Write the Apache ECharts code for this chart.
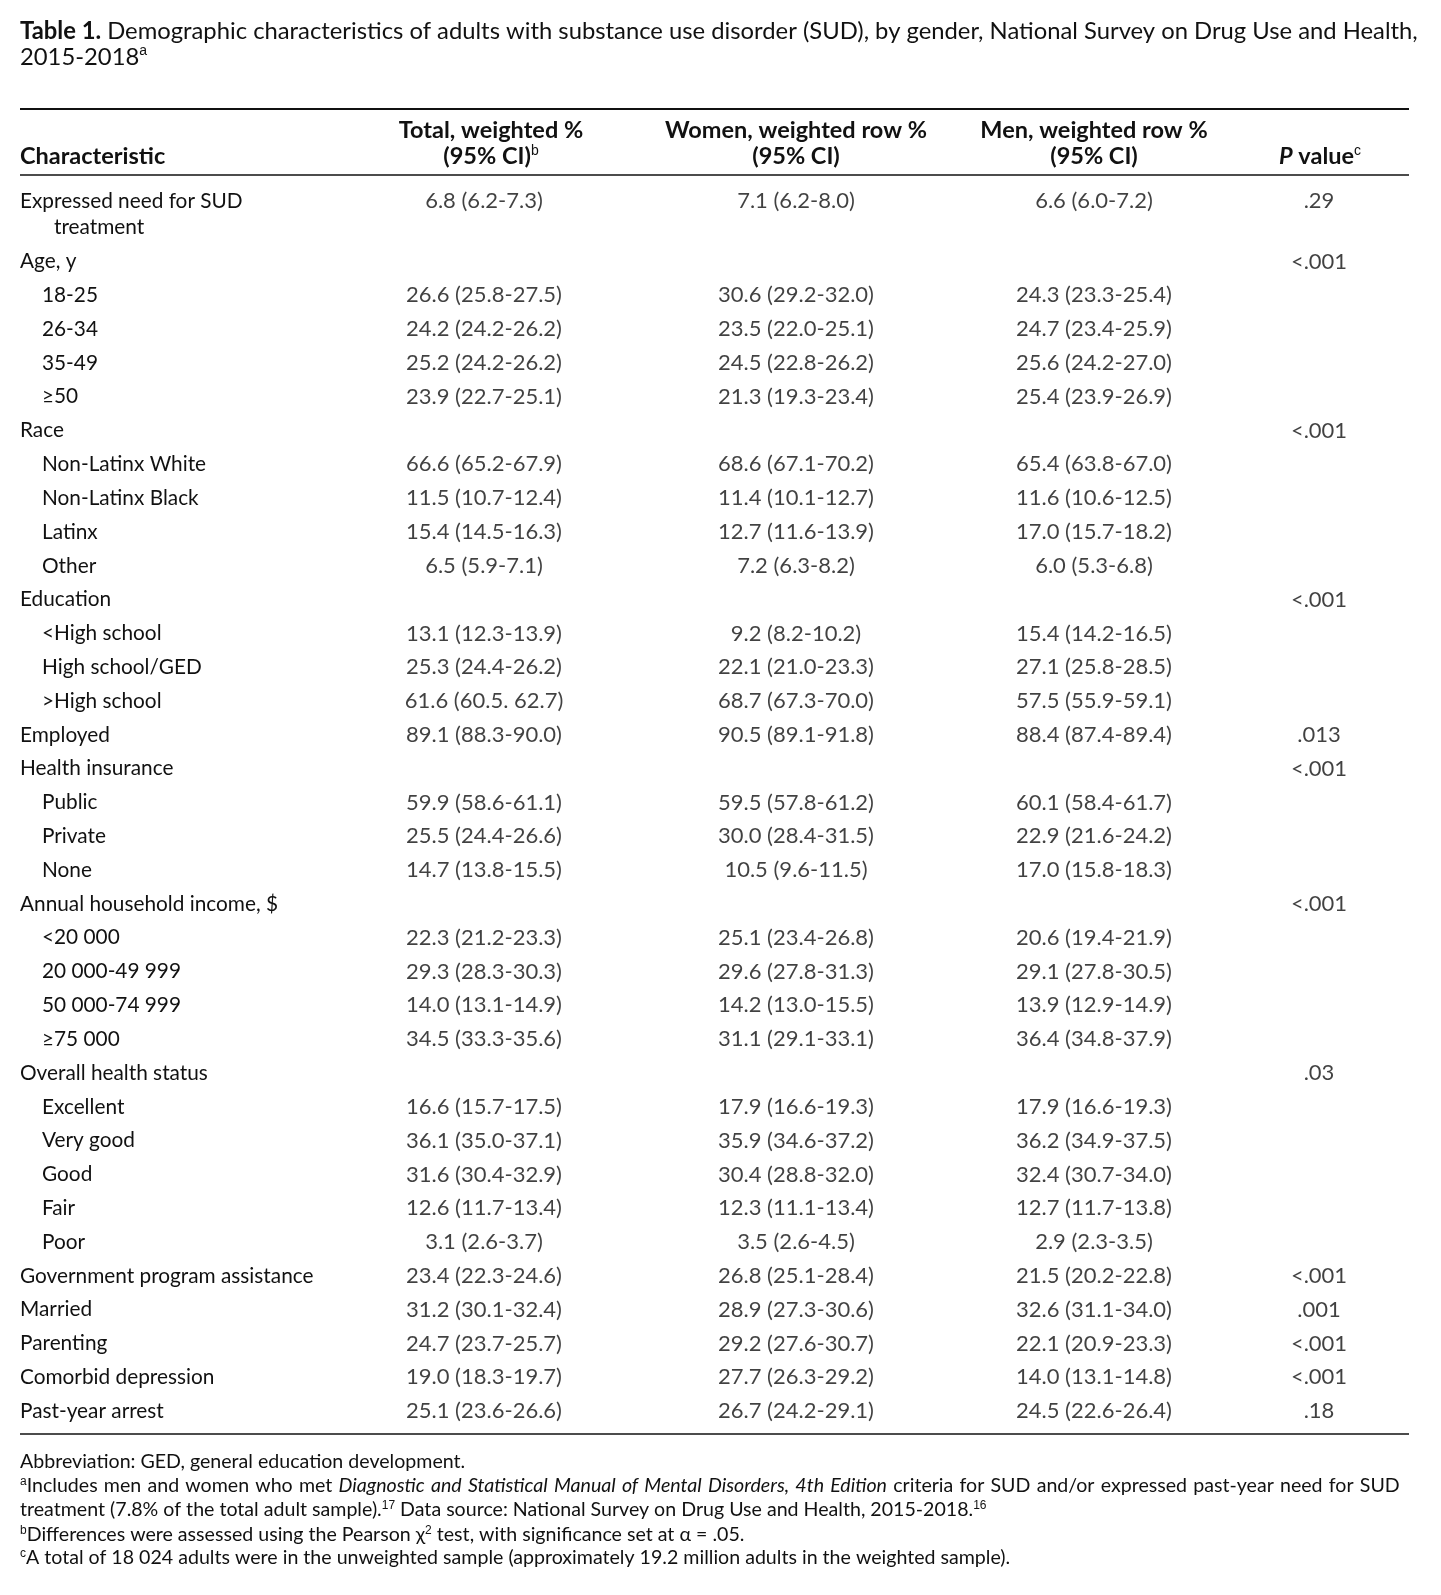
<!DOCTYPE html>
<html>
<head>
<meta charset="utf-8">
<script src="https://cdn.jsdelivr.net/npm/echarts@6/dist/echarts.min.js"></script>
<style>
  html, body { margin: 0; padding: 0; background: #fff; }
  #table { width: 1441px; height: 1595px; }
</style>
</head>
<body>
<div id="table"></div>
<script>
// rows of the table, top to bottom ('treatment' is the wrapped end of row 0)
var characteristics = [
  'Expressed need for SUD', 'treatment',
  'Age, y', '18-25', '26-34', '35-49', '≥50',
  'Race', 'Non-Latinx White', 'Non-Latinx Black', 'Latinx', 'Other',
  'Education', '<High school', 'High school/GED', '>High school',
  'Employed',
  'Health insurance', 'Public', 'Private', 'None',
  'Annual household income, $', '<20 000', '20 000-49 999', '50 000-74 999', '≥75 000',
  'Overall health status', 'Excellent', 'Very good', 'Good', 'Fair', 'Poor',
  'Government program assistance', 'Married', 'Parenting', 'Comorbid depression', 'Past-year arrest'
];
// 0 = group row, 1 = sub row, 2 = wrapped text
var indentLevel = [0, 2, 0, 1, 1, 1, 1, 0, 1, 1, 1, 1, 0, 1, 1, 1, 0, 0, 1, 1, 1,
  0, 1, 1, 1, 1, 0, 1, 1, 1, 1, 1, 0, 0, 0, 0, 0];

var totalPct = [
  '6.8 (6.2-7.3)', '',
  '', '26.6 (25.8-27.5)', '24.2 (24.2-26.2)', '25.2 (24.2-26.2)', '23.9 (22.7-25.1)',
  '', '66.6 (65.2-67.9)', '11.5 (10.7-12.4)', '15.4 (14.5-16.3)', '6.5 (5.9-7.1)',
  '', '13.1 (12.3-13.9)', '25.3 (24.4-26.2)', '61.6 (60.5. 62.7)',
  '89.1 (88.3-90.0)',
  '', '59.9 (58.6-61.1)', '25.5 (24.4-26.6)', '14.7 (13.8-15.5)',
  '', '22.3 (21.2-23.3)', '29.3 (28.3-30.3)', '14.0 (13.1-14.9)', '34.5 (33.3-35.6)',
  '', '16.6 (15.7-17.5)', '36.1 (35.0-37.1)', '31.6 (30.4-32.9)', '12.6 (11.7-13.4)', '3.1 (2.6-3.7)',
  '23.4 (22.3-24.6)', '31.2 (30.1-32.4)', '24.7 (23.7-25.7)', '19.0 (18.3-19.7)', '25.1 (23.6-26.6)'
];
var womenPct = [
  '7.1 (6.2-8.0)', '',
  '', '30.6 (29.2-32.0)', '23.5 (22.0-25.1)', '24.5 (22.8-26.2)', '21.3 (19.3-23.4)',
  '', '68.6 (67.1-70.2)', '11.4 (10.1-12.7)', '12.7 (11.6-13.9)', '7.2 (6.3-8.2)',
  '', '9.2 (8.2-10.2)', '22.1 (21.0-23.3)', '68.7 (67.3-70.0)',
  '90.5 (89.1-91.8)',
  '', '59.5 (57.8-61.2)', '30.0 (28.4-31.5)', '10.5 (9.6-11.5)',
  '', '25.1 (23.4-26.8)', '29.6 (27.8-31.3)', '14.2 (13.0-15.5)', '31.1 (29.1-33.1)',
  '', '17.9 (16.6-19.3)', '35.9 (34.6-37.2)', '30.4 (28.8-32.0)', '12.3 (11.1-13.4)', '3.5 (2.6-4.5)',
  '26.8 (25.1-28.4)', '28.9 (27.3-30.6)', '29.2 (27.6-30.7)', '27.7 (26.3-29.2)', '26.7 (24.2-29.1)'
];
var menPct = [
  '6.6 (6.0-7.2)', '',
  '', '24.3 (23.3-25.4)', '24.7 (23.4-25.9)', '25.6 (24.2-27.0)', '25.4 (23.9-26.9)',
  '', '65.4 (63.8-67.0)', '11.6 (10.6-12.5)', '17.0 (15.7-18.2)', '6.0 (5.3-6.8)',
  '', '15.4 (14.2-16.5)', '27.1 (25.8-28.5)', '57.5 (55.9-59.1)',
  '88.4 (87.4-89.4)',
  '', '60.1 (58.4-61.7)', '22.9 (21.6-24.2)', '17.0 (15.8-18.3)',
  '', '20.6 (19.4-21.9)', '29.1 (27.8-30.5)', '13.9 (12.9-14.9)', '36.4 (34.8-37.9)',
  '', '17.9 (16.6-19.3)', '36.2 (34.9-37.5)', '32.4 (30.7-34.0)', '12.7 (11.7-13.8)', '2.9 (2.3-3.5)',
  '21.5 (20.2-22.8)', '32.6 (31.1-34.0)', '22.1 (20.9-23.3)', '14.0 (13.1-14.8)', '24.5 (22.6-26.4)'
];
var pValues = [
  '.29', '',
  '<.001', '', '', '', '',
  '<.001', '', '', '', '',
  '<.001', '', '', '',
  '.013',
  '<.001', '', '', '',
  '<.001', '', '', '', '',
  '.03', '', '', '', '', '',
  '<.001', '.001', '<.001', '<.001', '.18'
];

// layout
var FONT = 'Lato, "Noto Sans", sans-serif';
var colX = { total: 484, women: 796, men: 1094, p: 1319 };
var ctx = document.createElement('canvas').getContext('2d');
function fit(text, weight, target) {
  ctx.font = weight + ' 100px ' + FONT;
  return Math.round(1000 * target / ctx.measureText(text).width) / 10;
}
var titleSize = fit('Table 1. Demographic characteristics of adults with substance use disorder (SUD), by gender, National Survey on Drug Use and Health,', 'normal', 1396);
var bodySize = fit('Government program assistance', 'normal', 293);
var valueSize = fit('26.6 (25.8-27.5)', 'normal', 156);
var headSize = fit('Women, weighted row %', 'bold', 262);
var noteSize = fit('Abbreviation: GED, general education development.', 'normal', 446);

function sup(size) {
  return { fontSize: Math.round(size * 0.6), verticalAlign: 'top', lineHeight: Math.round(size * 0.7) };
}

// spread a footnote line over a given width, like the justified print
function justify(parts, width) {
  var fonts = {
    n: noteSize + 'px ' + FONT,
    i: 'italic ' + noteSize + 'px ' + FONT,
    s: Math.round(noteSize * 0.6) + 'px ' + FONT
  };
  var tokens = [], natural = 0, spaces = 0;
  ctx.font = fonts.n;
  var spaceW = ctx.measureText(' ').width;
  parts.forEach(function (p) {
    p[1].split(/( )/).forEach(function (w) {
      if (!w) return;
      if (w === ' ') { tokens.push('{sp| }'); spaces++; natural += spaceW; return; }
      ctx.font = fonts[p[0]];
      natural += ctx.measureText(w).width;
      tokens.push('{' + p[0] + '|' + w + '}');
    });
  });
  return { text: tokens.join(''), space: spaceW + Math.max(0, (width - natural) / spaces) };
}

function columnSeries(name, x, texts) {
  var data = [];
  texts.forEach(function (t, i) {
    if (!t) return;
    var item = { value: [x, i, t] };
    if (i === 0) item.label = { offset: [0, 7] };
    data.push(item);
  });
  return {
    name: name,
    type: 'scatter',
    silent: true,
    symbolSize: 0,
    data: data,
    label: {
      show: true,
      position: 'inside',
      color: '#111',
      fontFamily: FONT,
      fontSize: valueSize,
      formatter: function (p) { return p.value[2]; }
    }
  };
}

function headText(text, x, y, align, rich) {
  return {
    type: 'text', x: x, y: y,
    style: {
      text: text, fill: '#111',
      fontFamily: FONT, fontSize: headSize, fontWeight: 'bold',
      align: align, verticalAlign: 'middle', rich: rich
    }
  };
}
function noteText(text, y, spaceW) {
  return {
    type: 'text', x: 20, y: y,
    style: {
      text: text, fill: '#111', fontFamily: FONT, fontSize: noteSize,
      align: 'left', verticalAlign: 'middle',
      rich: {
        n: {},
        s: sup(noteSize),
        i: { fontStyle: 'italic', fontSize: noteSize, fontFamily: FONT },
        sp: { width: spaceW }
      }
    }
  };
}
function rule(y, w) {
  return { type: 'line', shape: { x1: 20, y1: y, x2: 1409, y2: y }, style: { stroke: '#111', lineWidth: w } };
}

var noteA = justify([
  ['s', 'a'],
  ['n', 'Includes men and women who met '],
  ['i', 'Diagnostic and Statistical Manual of Mental Disorders, 4th Edition'],
  ['n', ' criteria for SUD and/or expressed past-year need for SUD']
], 1379);

var chart = echarts.init(document.getElementById('table'), null, { renderer: 'canvas' });
var headRich = { s: sup(headSize), i: { fontStyle: 'italic', fontWeight: 'bold', fontSize: headSize, fontFamily: FONT } };

var option = {
  backgroundColor: '#fff',
  animation: false,
  grid: { left: 0, right: 0, top: 177, height: 1251 },
  xAxis: { type: 'value', min: 0, max: 1441, show: false },
  yAxis: {
    type: 'category',
    inverse: true,
    data: characteristics,
    axisLine: { show: false },
    axisTick: { show: false },
    splitLine: { show: false },
    axisLabel: {
      inside: true,
      margin: 20,
      align: 'left',
      interval: 0,
      color: '#111',
      fontFamily: FONT,
      fontSize: bodySize,
      formatter: function (v, i) {
        if (i === 0) return '{first|' + v + '}';
        return '{l' + indentLevel[i] + '|' + v + '}';
      },
      rich: {
        first: { padding: [14, 0, 0, 0] },
        l0: {},
        l1: { padding: [0, 0, 0, 22] },
        l2: { padding: [0, 0, 0, 34] }
      }
    }
  },
  series: [
    columnSeries('Total', colX.total, totalPct),
    columnSeries('Women', colX.women, womenPct),
    columnSeries('Men', colX.men, menPct),
    columnSeries('P value', colX.p, pValues)
  ],
  graphic: [
    {
      type: 'text', x: 20, y: 31 - 13,
      style: {
        text: '{b|Table 1.} Demographic characteristics of adults with substance use disorder (SUD), by gender, National Survey on Drug Use and Health,\n2015-2018{s|a}',
        fill: '#111', fontFamily: FONT, fontSize: titleSize, lineHeight: 26,
        align: 'left', verticalAlign: 'top',
        rich: { b: { fontWeight: 'bold', fontSize: titleSize, fontFamily: FONT }, s: sup(titleSize) }
      }
    },
    rule(109, 2),
    headText('Total, weighted %', 491, 130, 'center'),
    headText('(95% CI){s|b}', 491, 156, 'center', headRich),
    headText('Women, weighted row %', 796, 130, 'center'),
    headText('(95% CI)', 796, 156, 'center'),
    headText('Men, weighted row %', 1094, 130, 'center'),
    headText('(95% CI)', 1094, 156, 'center'),
    headText('Characteristic', 20, 156, 'left'),
    headText('{i|P} value{s|c}', 1320, 156, 'center', headRich),
    rule(175, 1.6),
    rule(1434, 1.6),
    noteText('Abbreviation: GED, general education development.', 1462),
    noteText(noteA.text, 1486, noteA.space),
    noteText('treatment (7.8% of the total adult sample).{s|17} Data source: National Survey on Drug Use and Health, 2015-2018.{s|16}', 1510),
    noteText('{s|b}Differences were assessed using the Pearson χ{s|2} test, with significance set at α = .05.', 1535),
    noteText('{s|c}A total of 18 024 adults were in the unweighted sample (approximately 19.2 million adults in the weighted sample).', 1558)
  ]
};
chart.setOption(option);
</script>
</body>
</html>
